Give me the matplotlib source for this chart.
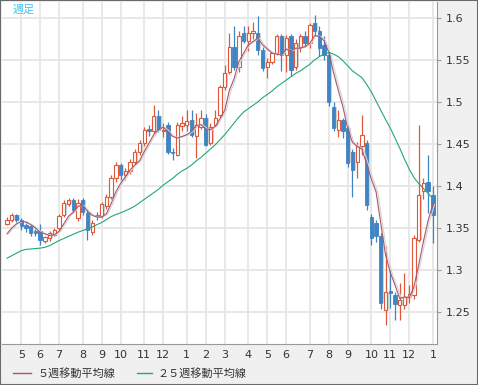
import numpy as np
import pandas as pd
import matplotlib
matplotlib.use("Agg")
import matplotlib.pyplot as plt
from matplotlib.lines import Line2D

# weekly bars, first bar is the week of 2007-04-16
week_start = "2007-04-16"

opens = [1.355, 1.360, 1.365, 1.360, 1.354, 1.352, 1.346, 1.346, 1.335, 1.338,
         1.342, 1.350, 1.365, 1.378, 1.383, 1.362, 1.383, 1.368, 1.345, 1.366,
         1.364, 1.376, 1.387, 1.410, 1.425, 1.413, 1.418, 1.429, 1.441, 1.451,
         1.468, 1.465, 1.483, 1.465, 1.472, 1.440, 1.437, 1.471, 1.473, 1.479,
         1.459, 1.470, 1.481, 1.451, 1.473, 1.484, 1.518, 1.536, 1.566, 1.542,
         1.582, 1.572, 1.582, 1.582, 1.562, 1.542, 1.547, 1.558, 1.578, 1.556,
         1.578, 1.542, 1.566, 1.578, 1.570, 1.594, 1.584, 1.568, 1.556, 1.494,
         1.467, 1.479, 1.469, 1.440, 1.429, 1.447, 1.451, 1.363, 1.356, 1.340,
         1.252, 1.275, 1.270, 1.258, 1.258, 1.268, 1.270, 1.336, 1.394, 1.405,
         1.389]
highs = [1.363, 1.368, 1.367, 1.362, 1.356, 1.354, 1.349, 1.355, 1.341, 1.346,
         1.350, 1.367, 1.383, 1.386, 1.386, 1.384, 1.386, 1.372, 1.360, 1.369,
         1.381, 1.390, 1.413, 1.428, 1.427, 1.421, 1.432, 1.444, 1.455, 1.470,
         1.472, 1.496, 1.491, 1.475, 1.476, 1.445, 1.476, 1.483, 1.490, 1.491,
         1.487, 1.491, 1.486, 1.475, 1.490, 1.520, 1.544, 1.582, 1.590, 1.585,
         1.590, 1.590, 1.595, 1.602, 1.565, 1.552, 1.560, 1.581, 1.581, 1.580,
         1.581, 1.575, 1.581, 1.584, 1.594, 1.603, 1.590, 1.578, 1.560, 1.500,
         1.490, 1.481, 1.473, 1.444, 1.452, 1.485, 1.455, 1.367, 1.360, 1.344,
         1.328, 1.300, 1.274, 1.285, 1.297, 1.282, 1.342, 1.472, 1.410, 1.437,
         1.400]
lows = [1.353, 1.357, 1.357, 1.348, 1.345, 1.341, 1.341, 1.330, 1.332, 1.335,
        1.340, 1.348, 1.363, 1.376, 1.368, 1.358, 1.366, 1.336, 1.342, 1.360,
        1.362, 1.373, 1.384, 1.405, 1.407, 1.407, 1.414, 1.426, 1.437, 1.448,
        1.460, 1.463, 1.464, 1.458, 1.438, 1.431, 1.436, 1.466, 1.465, 1.458,
        1.433, 1.468, 1.447, 1.449, 1.472, 1.482, 1.514, 1.533, 1.538, 1.536,
        1.570, 1.561, 1.575, 1.556, 1.537, 1.528, 1.545, 1.556, 1.537, 1.536,
        1.531, 1.538, 1.560, 1.565, 1.564, 1.578, 1.555, 1.550, 1.495, 1.466,
        1.458, 1.457, 1.423, 1.387, 1.410, 1.437, 1.371, 1.330, 1.333, 1.253,
        1.234, 1.255, 1.240, 1.240, 1.253, 1.261, 1.265, 1.333, 1.385, 1.368,
        1.332]
closes = [1.360, 1.365, 1.360, 1.352, 1.350, 1.344, 1.344, 1.336, 1.339, 1.344,
          1.348, 1.364, 1.380, 1.383, 1.372, 1.380, 1.369, 1.348, 1.356, 1.364,
          1.378, 1.387, 1.410, 1.425, 1.413, 1.418, 1.429, 1.441, 1.451, 1.467,
          1.465, 1.483, 1.467, 1.467, 1.441, 1.439, 1.473, 1.475, 1.477, 1.461,
          1.473, 1.481, 1.449, 1.470, 1.481, 1.518, 1.534, 1.566, 1.542, 1.578,
          1.572, 1.582, 1.585, 1.562, 1.540, 1.547, 1.558, 1.578, 1.556, 1.576,
          1.538, 1.570, 1.578, 1.570, 1.592, 1.584, 1.564, 1.556, 1.500, 1.469,
          1.479, 1.465, 1.427, 1.419, 1.447, 1.461, 1.377, 1.338, 1.340, 1.261,
          1.274, 1.273, 1.260, 1.264, 1.268, 1.272, 1.338, 1.389, 1.404, 1.394,
          1.366]

# moving averages
ma5 = [1.343, 1.350, 1.355, 1.358, 1.357, 1.354, 1.350, 1.345, 1.343, 1.341,
       1.342, 1.346, 1.355, 1.364, 1.369, 1.376, 1.377, 1.370, 1.365, 1.363,
       1.363, 1.367, 1.379, 1.393, 1.403, 1.411, 1.419, 1.425, 1.430, 1.441,
       1.451, 1.461, 1.467, 1.470, 1.465, 1.459, 1.457, 1.459, 1.461, 1.465,
       1.472, 1.473, 1.468, 1.467, 1.471, 1.480, 1.490, 1.514, 1.528, 1.548,
       1.558, 1.568, 1.572, 1.576, 1.568, 1.563, 1.558, 1.557, 1.556, 1.563,
       1.561, 1.564, 1.564, 1.566, 1.570, 1.579, 1.578, 1.573, 1.559, 1.535,
       1.514, 1.494, 1.468, 1.452, 1.447, 1.444, 1.426, 1.408, 1.393, 1.355,
       1.318, 1.297, 1.282, 1.266, 1.268, 1.267, 1.280, 1.306, 1.334, 1.359,
       1.378]
ma25 = [1.314, 1.317, 1.320, 1.323, 1.3245, 1.325, 1.3255, 1.326, 1.327, 1.329,
        1.332, 1.335, 1.3375, 1.340, 1.3425, 1.345, 1.347, 1.349, 1.351, 1.354,
        1.3565, 1.360, 1.3635, 1.366, 1.368, 1.3705, 1.373, 1.376, 1.380, 1.384,
        1.388, 1.392, 1.396, 1.401, 1.405, 1.409, 1.414, 1.418, 1.421, 1.425,
        1.430, 1.434, 1.439, 1.444, 1.449, 1.455, 1.461, 1.468, 1.475, 1.482,
        1.488, 1.492, 1.496, 1.500, 1.505, 1.509, 1.513, 1.518, 1.522, 1.526,
        1.530, 1.534, 1.537, 1.541, 1.545, 1.550, 1.554, 1.557, 1.559, 1.557,
        1.554, 1.549, 1.543, 1.537, 1.533, 1.529, 1.521, 1.512, 1.501, 1.490,
        1.479, 1.469, 1.457, 1.445, 1.432, 1.420, 1.410, 1.403, 1.397, 1.391,
        1.385]

y_ticks = [1.25, 1.3, 1.35, 1.4, 1.45, 1.5, 1.55, 1.6]
y_tick_labels = ["1.25", "1.3", "1.35", "1.4", "1.45", "1.5", "1.55", "1.6"]
legend_labels = ["５週移動平均線", "２５週移動平均線"]
title_text = "週足"

UP = "#e0583a"
DOWN = "#3f84c4"
MA5_COLOR = "#a8566e"
MA25_COLOR = "#22a77a"
GRID = "#e6e6e6"
BG = "#f0f0f0"
CJK = ["Noto Sans CJK JP", "DejaVu Sans"]

dates = pd.date_range(week_start, periods=len(closes), freq="W-MON")
x = np.arange(len(closes))
o = np.array(opens)
c = np.array(closes)
up = c >= o

# a tick on the first weekly bar of each month
tick_pos = [i for i in range(1, len(dates)) if dates[i].month != dates[i - 1].month]
tick_lab = [str(dates[i].month) for i in tick_pos]

W, H = 478, 385
fig = plt.figure(figsize=(W / 100, H / 100), dpi=100, facecolor=BG)
ax = fig.add_axes([2 / W, 41 / H, 435 / W, 342 / H])
ax.set_facecolor("white")

ax.set_xlim(-1.06, 90.87)
ax.set_ylim(1.2119, 1.6190)

# grid
for yv in y_ticks:
    ax.axhline(yv, color=GRID, lw=1.3, zorder=0)
for xv in tick_pos:
    ax.axvline(xv, color=GRID, lw=1.3, zorder=0)

# candles
bw = 0.7
body_lo = np.minimum(o, c)
body_h = np.maximum(np.abs(c - o), 0.0008)
ax.bar(x + 0.3, body_h, bottom=body_lo, width=bw, color="#d2d2d2", lw=0, zorder=1)
ax.vlines(x[up], np.array(lows)[up], np.array(highs)[up], color=UP, lw=0.9, zorder=2)
ax.vlines(x[~up], np.array(lows)[~up], np.array(highs)[~up], color=DOWN, lw=0.9, zorder=2)
ax.bar(x[up], body_h[up], bottom=body_lo[up], width=bw, facecolor="white",
       edgecolor=UP, lw=0.8, zorder=3)
ax.bar(x[~up], body_h[~up], bottom=body_lo[~up], width=bw, facecolor=DOWN,
       edgecolor=DOWN, lw=0.6, zorder=3)

# moving averages
ax.plot(x + 0.35, ma5, color="#d4d4d4", lw=0.8, zorder=4)
ax.plot(x, ma5, color=MA5_COLOR, lw=0.8, zorder=5)
ax.plot(x, ma25, color=MA25_COLOR, lw=0.8, zorder=5)

# axes styling
for side in ["top", "left"]:
    ax.spines[side].set_visible(False)
ax.spines["right"].set_color("#9a9a9a")
ax.spines["bottom"].set_color("#9a9a9a")
ax.yaxis.tick_right()
ax.set_yticks(y_ticks)
ax.set_yticklabels(y_tick_labels)
ax.tick_params(axis="y", length=3, color="#9a9a9a", pad=3, labelsize=8, labelcolor="#333333")
ax.set_xticks(tick_pos)
ax.set_xticklabels(tick_lab)
ax.tick_params(axis="x", length=0, pad=4, labelsize=8, labelcolor="#333333")

# title and legend
fig.text(13 / W, 1 - 10 / H, title_text, family=CJK, fontsize=8, color="#40c4f4", va="center")
leg_y = 1 - 373 / H
for (x0, x1, tx), col, lab in zip([(13, 31, 38), (137, 152, 157)], [MA5_COLOR, MA25_COLOR], legend_labels):
    fig.add_artist(Line2D([x0 / W, x1 / W], [leg_y, leg_y], color=col, lw=1))
    fig.text(tx / W, leg_y, lab, family=CJK, fontsize=8, color="#333333", va="center")

# outer frame
fig.add_artist(plt.Rectangle((0, 0), 1, 1, transform=fig.transFigure, fill=False,
                             edgecolor="#6a6a6a", lw=1.5))

fig.savefig("out.png", dpi=100, facecolor=BG)
